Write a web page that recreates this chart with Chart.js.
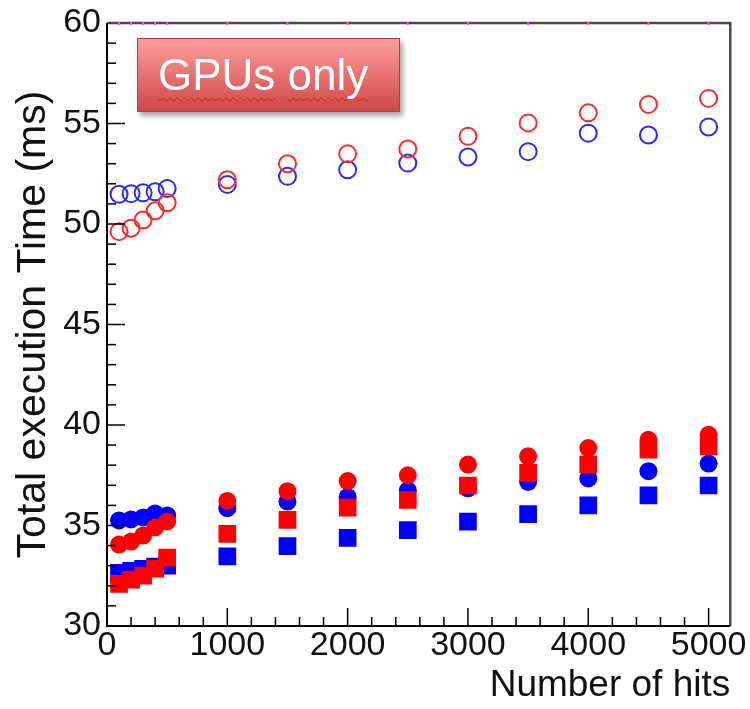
<!DOCTYPE html>
<html><head><meta charset="utf-8">
<script src="https://cdn.jsdelivr.net/npm/chart.js@4.4.1/dist/chart.umd.min.js"></script>
<style>
html,body{margin:0;padding:0;background:#fff;}
#wrap{position:relative;width:750px;height:709px;}
#c{display:block;}
#tag{position:absolute;left:137px;top:38px;width:263px;height:74px;box-sizing:border-box;
 background:linear-gradient(#ff9e9e,#cf4747);border:1px solid #b53a3a;box-shadow:3px 4px 5px rgba(0,0,0,0.35);
 color:#fff;font:44px "Liberation Sans",Arial,sans-serif;display:flex;align-items:center;padding-left:20px;white-space:nowrap;}
#tag span{text-decoration:underline wavy #e01818;text-decoration-thickness:1px;text-underline-offset:7px;}
</style></head>
<body><div id="wrap"><canvas id="c" width="750" height="709"></canvas><div id="tag"><span>GPUs</span>&nbsp;<span>only</span></div></div>
<script>
// ---- data ----
const hits = [100, 200, 300, 400, 500, 1000, 1500, 2000, 2500, 3000, 3500, 4000, 4500, 5000];
const redOpen      = [49.62, 49.79, 50.20, 50.66, 51.06, 52.20, 53.00, 53.49, 53.73, 54.36, 55.03, 55.53, 55.95, 56.25];
const blueOpen     = [51.48, 51.51, 51.55, 51.60, 51.76, 51.97, 52.37, 52.70, 53.03, 53.33, 53.60, 54.52, 54.43, 54.83];
const redCircle    = [34.05, 34.20, 34.50, 34.90, 35.20, 36.22, 36.71, 37.21, 37.50, 38.03, 38.44, 38.85, 39.26, 39.51];
const blueCircle   = [35.25, 35.30, 35.40, 35.60, 35.50, 35.86, 36.19, 36.42, 36.75, 36.85, 37.17, 37.34, 37.70, 38.08];
const redSquare    = [32.10, 32.30, 32.50, 32.85, 33.40, 34.58, 35.28, 35.89, 36.27, 36.99, 37.62, 38.03, 38.77, 38.93];
const blueSquare   = [32.65, 32.75, 32.85, 32.95, 33.00, 33.46, 33.97, 34.38, 34.77, 35.19, 35.57, 36.00, 36.50, 36.99];
const xTickLabels = [0, 1000, 2000, 3000, 4000, 5000];
const yTickLabels = [30, 35, 40, 45, 50, 55, 60];
const xTitle = 'Number of hits';
const yTitle = 'Total execution Time (ms)';

const pts = arr => arr.map((v, i) => ({x: hits[i], y: v}));
const RED = '#ff0000', BLUE = '#0000ff';

const frameTicks = {
  id: 'frameTicks',
  afterDraw(chart) {
    const {ctx, chartArea: a, scales: {x, y}} = chart;
    ctx.save();
    ctx.strokeStyle = '#000';
    ctx.lineWidth = 1.5;
    for (let v = 0; v <= x.max; v += 200) {
      const px = x.getPixelForValue(v);
      const len = v % 1000 === 0 ? 18 : 9;
      ctx.beginPath(); ctx.moveTo(px, a.bottom); ctx.lineTo(px, a.bottom - len); ctx.stroke();
    }
    for (let v = y.min; v <= y.max; v += 1) {
      const py = y.getPixelForValue(v);
      const len = v % 5 === 0 ? 18 : 9;
      ctx.beginPath(); ctx.moveTo(a.left, py); ctx.lineTo(a.left + len, py); ctx.stroke();
    }
    // top and right frame
    ctx.strokeStyle = '#4a4a4a';
    ctx.lineWidth = 2.5;
    ctx.beginPath(); ctx.moveTo(a.left, a.top); ctx.lineTo(a.right, a.top); ctx.lineTo(a.right, a.bottom); ctx.stroke();
    // left and bottom axes
    ctx.strokeStyle = '#000';
    ctx.lineWidth = 2;
    ctx.beginPath(); ctx.moveTo(a.left, a.top); ctx.lineTo(a.left, a.bottom); ctx.lineTo(a.right, a.bottom); ctx.stroke();
    // small magenta marks on the top edge at the measured points
    ctx.fillStyle = '#ff44ff';
    hits.forEach(h => {
      const px = x.getPixelForValue(h);
      ctx.fillRect(px - 1, a.top - 1, 2, 3);
    });
    ctx.restore();
  }
};

const common = {showLine: false};
new Chart(document.getElementById('c'), {
  type: 'scatter',
  data: {
    datasets: [
      {...common, label: 'red open', data: pts(redOpen), pointStyle: 'circle', pointRadius: 8.5, borderWidth: 2, borderColor: '#ff2a2a', backgroundColor: 'rgba(0,0,0,0)'},
      {...common, label: 'red circle', data: pts(redCircle), pointStyle: 'circle', pointRadius: 9, borderWidth: 0, backgroundColor: RED, borderColor: RED},
      {...common, label: 'red square', data: pts(redSquare), pointStyle: 'rect', pointRadius: 12.5, borderWidth: 0, backgroundColor: RED, borderColor: RED},
      {...common, label: 'blue open', data: pts(blueOpen), pointStyle: 'circle', pointRadius: 8.5, borderWidth: 2, borderColor: '#2a2aff', backgroundColor: 'rgba(0,0,0,0)'},
      {...common, label: 'blue circle', data: pts(blueCircle), pointStyle: 'circle', pointRadius: 9, borderWidth: 0, backgroundColor: BLUE, borderColor: BLUE},
      {...common, label: 'blue square', data: pts(blueSquare), pointStyle: 'rect', pointRadius: 12.5, borderWidth: 0, backgroundColor: BLUE, borderColor: BLUE}
    ]
  },
  options: {
    responsive: false,
    animation: false,
    layout: {padding: {left: 0, right: 17, top: 18, bottom: 0}},
    plugins: {legend: {display: false}, tooltip: {enabled: false}},
    elements: {point: {hoverRadius: 0}},
    scales: {
      x: {
        type: 'linear', min: 0, max: 5180,
        afterBuildTicks: s => { s.ticks = xTickLabels.map(v => ({value: v})); },
        afterFit: s => { s.height = 83; },
        grid: {display: false, drawTicks: false},
        border: {display: false},
        ticks: {padding: 3, color: '#111', font: {family: '"Liberation Sans", Arial, sans-serif', size: 34, lineHeight: 1}, maxRotation: 0, callback: v => String(v)},
        title: {display: true, text: xTitle, align: 'end', color: '#111', padding: {top: 0, bottom: 3}, font: {family: '"Liberation Sans", Arial, sans-serif', size: 37, lineHeight: 1.1}}
      },
      y: {
        type: 'linear', min: 30, max: 60,
        afterBuildTicks: s => { s.ticks = yTickLabels.map(v => ({value: v})); },
        afterFit: s => { s.width = 107; },
        grid: {display: false, drawTicks: false},
        border: {display: false},
        ticks: {padding: 6, color: '#111', font: {family: '"Liberation Sans", Arial, sans-serif', size: 34, lineHeight: 1}, callback: v => String(v)},
        title: {display: true, text: yTitle, color: '#111', padding: {top: 13, bottom: 0}, font: {family: '"Liberation Sans", Arial, sans-serif', size: 41, lineHeight: 1}}
      }
    }
  },
  plugins: [frameTicks]
});
</script>
</body></html>
